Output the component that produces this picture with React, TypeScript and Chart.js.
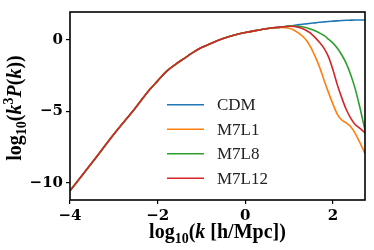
import React, { useEffect, useRef } from "react";
import { Chart, registerables } from "chart.js";

Chart.register(...registerables);

// log10(k [h/Mpc])
const logK = [
  -4, -3.5, -3, -2.5, -2.2, -2, -1.8, -1.6, -1.4, -1.2, -1.0, -0.8, -0.6, -0.4, -0.2, 0, 0.2, 0.4, 0.6, 0.8,
  1.0, 1.1, 1.2, 1.3, 1.4, 1.5, 1.6, 1.7, 1.8, 1.9, 2.0, 2.1, 2.2, 2.3, 2.4, 2.5, 2.6, 2.73,
];

// log10(k^3 P(k))
const cdm = [
  -10.55, -8.6, -6.6, -4.72, -3.53, -2.86, -2.2, -1.72, -1.3, -0.88, -0.52, -0.26, 0.0, 0.21, 0.38, 0.52, 0.64, 0.75, 0.84, 0.9,
  0.97, 1.02, 1.06, 1.1, 1.13, 1.17, 1.2, 1.24, 1.27, 1.3, 1.32, 1.34, 1.36, 1.38, 1.39, 1.4, 1.4, 1.4,
];
const m7l1 = [
  -10.55, -8.6, -6.6, -4.72, -3.53, -2.86, -2.2, -1.72, -1.3, -0.88, -0.52, -0.26, 0.0, 0.21, 0.38, 0.52, 0.64, 0.75, 0.84, 0.88,
  0.82, 0.7, 0.52, 0.28, -0.05, -0.55, -1.2, -1.95, -2.85, -3.7, -4.5, -5.2, -5.6, -5.8, -6.05, -6.5, -7.1, -7.95,
];
const m7l8 = [
  -10.55, -8.6, -6.6, -4.72, -3.53, -2.86, -2.2, -1.72, -1.3, -0.88, -0.52, -0.26, 0.0, 0.21, 0.38, 0.52, 0.64, 0.75, 0.84, 0.9,
  0.97, 0.97, 0.96, 0.93, 0.86, 0.75, 0.63, 0.48, 0.3, 0.05, -0.22, -0.58, -1.05, -1.62, -2.4, -3.35, -4.55, -6.3,
];
const m7l12 = [
  -10.55, -8.6, -6.6, -4.72, -3.53, -2.86, -2.2, -1.72, -1.3, -0.88, -0.52, -0.26, 0.0, 0.21, 0.38, 0.52, 0.64, 0.75, 0.84, 0.9,
  0.96, 0.95, 0.9, 0.8, 0.65, 0.45, 0.15, -0.2, -0.6, -1.2, -2.1, -3.15, -4.05, -4.85, -5.45, -5.9, -6.15, -6.5,
];

const seriesLabels = ["CDM", "M7L1", "M7L8", "M7L12"];
const seriesValues = [cdm, m7l1, m7l8, m7l12];
const seriesColors = ["#1f77b4", "#ff7f0e", "#2ca02c", "#d62728"];

const xTicks = [-4, -2, 0, 2];
const yTicks = [-10, -5, 0];
const xRange = [-4, 2.73];
const yRange = [-11.2, 1.96];

const fmt = (v: number) => (v < 0 ? "\u2212" + Math.abs(v) : String(v));

const SERIF = "'Liberation Serif', serif";
const B20 = `bold 20px ${SERIF}`;
const BI20 = `italic bold 20px ${SERIF}`;
const B14 = `bold 14px ${SERIF}`;

type Seg = { t: string; font: string; dy?: number };

const xTitle: Seg[] = [
  { t: "log", font: B20 },
  { t: "10", font: B14, dy: 5 },
  { t: "(", font: B20 },
  { t: "k", font: BI20 },
  { t: " [h/Mpc])", font: B20 },
];
const yTitle: Seg[] = [
  { t: "log", font: B20 },
  { t: "10", font: B14, dy: 5 },
  { t: "(", font: B20 },
  { t: "k", font: BI20 },
  { t: "3", font: B14, dy: -8 },
  { t: "P", font: BI20 },
  { t: "(", font: B20 },
  { t: "k", font: BI20 },
  { t: "))", font: B20 },
];

function drawRich(ctx: CanvasRenderingContext2D, segs: Seg[], cx: number, y: number) {
  let w = 0;
  for (const s of segs) {
    ctx.font = s.font;
    w += ctx.measureText(s.t).width;
  }
  let x = cx - w / 2;
  ctx.textAlign = "left";
  ctx.textBaseline = "alphabetic";
  for (const s of segs) {
    ctx.font = s.font;
    ctx.fillText(s.t, x, y + (s.dy || 0));
    x += ctx.measureText(s.t).width;
  }
}

const decorPlugin = {
  id: "decor",
  afterDraw(chart: any) {
    const { ctx, chartArea: a } = chart;
    ctx.save();
    // frame
    ctx.strokeStyle = "#000";
    ctx.lineWidth = 1.6;
    ctx.strokeRect(a.left, a.top, a.right - a.left, a.bottom - a.top);
    // legend
    const lx0 = a.left + 97;
    const lx1 = a.left + 134;
    const tx = a.left + 147;
    const y0 = a.top + 92.7;
    chart.data.datasets.forEach((ds: any, i: number) => {
      const y = y0 + i * 24.5;
      ctx.strokeStyle = ds.borderColor;
      ctx.lineWidth = 1.6;
      ctx.beginPath();
      ctx.moveTo(lx0, y);
      ctx.lineTo(lx1, y);
      ctx.stroke();
      ctx.fillStyle = "#222";
      ctx.font = `17px ${SERIF}`;
      ctx.textAlign = "left";
      ctx.textBaseline = "middle";
      ctx.fillText(ds.label, tx, y + 1);
    });
    // axis titles
    ctx.fillStyle = "#000";
    drawRich(ctx, xTitle, (a.left + a.right) / 2, 237.5);
    ctx.translate(20.7, (a.top + a.bottom) / 2 + 2);
    ctx.rotate(-Math.PI / 2);
    drawRich(ctx, yTitle, 0, 0);
    ctx.restore();
  },
};

export default function App() {
  const ref = useRef<HTMLCanvasElement | null>(null);
  useEffect(() => {
    if (!ref.current) return;
    const tickFont = { family: "'DejaVu Serif', serif", weight: "bold" as const, size: 15 };
    const chart = new Chart(ref.current, {
      type: "line",
      data: {
        datasets: seriesLabels.map((label, i) => ({
          label,
          data: logK.map((x, j) => ({ x, y: seriesValues[i][j] })),
          borderColor: seriesColors[i],
          backgroundColor: seriesColors[i],
          borderWidth: 1.6,
          pointRadius: 0,
          fill: false,
          cubicInterpolationMode: "monotone" as const,
          order: seriesLabels.length - 1 - i,
        })),
      },
      options: {
        animation: false,
        responsive: false,
        devicePixelRatio: 1,
        layout: { padding: { left: 0, right: 9, top: 9, bottom: 0 } },
        plugins: { legend: { display: false }, tooltip: { enabled: false } },
        scales: {
          x: {
            type: "linear",
            min: xRange[0],
            max: xRange[1],
            afterBuildTicks: (s: any) => {
              s.ticks = xTicks.map((v) => ({ value: v }));
            },
            afterFit: (s: any) => {
              s.height = 50;
            },
            ticks: { font: tickFont, color: "#000", padding: 3, callback: (v: any) => fmt(Number(v)), maxRotation: 0, autoSkip: false },
            grid: { drawOnChartArea: false, drawTicks: true, tickLength: 4, color: "#000", lineWidth: 1.2 },
            border: { display: false },
          },
          y: {
            type: "linear",
            min: yRange[0],
            max: yRange[1],
            afterBuildTicks: (s: any) => {
              s.ticks = yTicks.map((v) => ({ value: v }));
            },
            afterFit: (s: any) => {
              s.width = 70;
            },
            ticks: { font: tickFont, color: "#000", padding: 3, callback: (v: any) => fmt(Number(v)), autoSkip: false },
            grid: { drawOnChartArea: false, drawTicks: true, tickLength: 4, color: "#000", lineWidth: 1.2 },
            border: { display: false },
          },
        },
      },
      plugins: [decorPlugin],
    });
    return () => chart.destroy();
  }, []);
  return (
    <div style={{ position: "absolute", left: 0, top: 0, width: 374, height: 250, background: "#fff" }}>
      <canvas ref={ref} width={374} height={250} style={{ display: "block", width: 374, height: 250 }} />
    </div>
  );
}
